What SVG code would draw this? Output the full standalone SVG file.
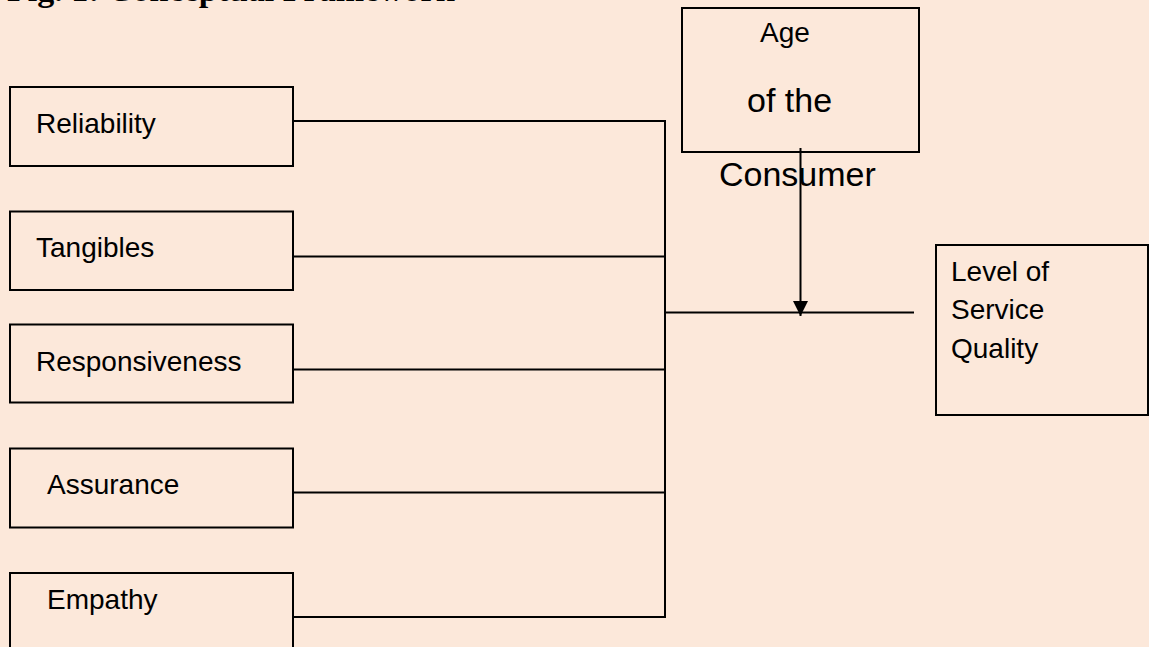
<svg xmlns="http://www.w3.org/2000/svg" width="1149" height="647" viewBox="0 0 1149 647">
  <style>
    .box { fill: none; stroke: #000; stroke-width: 2; }
    .wire { fill: none; stroke: #000; stroke-width: 2; }
    .lbl { font-family: "Liberation Sans", Arial, sans-serif; font-size: 28px; fill: #000; }
    .big { font-size: 34px; }
    .title { font-family: "Liberation Serif", "Times New Roman", serif; font-weight: bold; font-size: 34px; fill: #000; }
  </style>
  <defs>
    <marker id="arrow" markerWidth="15" markerHeight="15" refX="15" refY="7.5" orient="auto" markerUnits="userSpaceOnUse">
      <path d="M0,0 L15,7.5 L0,15 Z" fill="#000"/>
    </marker>
  </defs>

  <rect width="1149" height="647" fill="#FCE8DA"/>

  <!-- heading, mostly above the top edge -->
  <text class="title" x="7" y="0.5">Fig. 1: Conceptual Framework</text>

  <!-- connectors -->
  <g id="connectors">
    <path class="wire" d="M293,121 H665 V617 H293"/>
    <path class="wire" d="M293,256.5 H665"/>
    <path class="wire" d="M293,369.5 H665"/>
    <path class="wire" d="M293,492.5 H665"/>
    <path class="wire" d="M665,312.5 H914"/>
    <path class="wire" d="M800.5,148 V316" marker-end="url(#arrow)"/>
  </g>

  <g id="reliability">
    <rect class="box" x="10" y="87" width="283" height="79"/>
    <text class="lbl" x="36" y="133">Reliability</text>
  </g>

  <g id="tangibles">
    <rect class="box" x="10" y="211.5" width="283" height="78.5"/>
    <text class="lbl" x="36" y="256.5">Tangibles</text>
  </g>

  <g id="responsiveness">
    <rect class="box" x="10" y="324.5" width="283" height="78"/>
    <text class="lbl" x="36" y="370.5">Responsiveness</text>
  </g>

  <g id="assurance">
    <rect class="box" x="10" y="448.5" width="283" height="79"/>
    <text class="lbl" x="47" y="494">Assurance</text>
  </g>

  <g id="empathy">
    <rect class="box" x="10" y="573" width="283" height="90"/>
    <text class="lbl" x="47" y="609">Empathy</text>
  </g>

  <g id="age">
    <rect class="box" x="682" y="8" width="237" height="144"/>
    <text class="lbl" x="760" y="42">Age</text>
    <text class="lbl big" x="747" y="112">of the</text>
    <text class="lbl big" x="719" y="185.5">Consumer</text>
  </g>

  <g id="service-quality">
    <rect class="box" x="936" y="245" width="212" height="170"/>
    <text class="lbl" x="951" y="281">Level of</text>
    <text class="lbl" x="951" y="319">Service</text>
    <text class="lbl" x="951" y="357.5">Quality</text>
  </g>
</svg>
